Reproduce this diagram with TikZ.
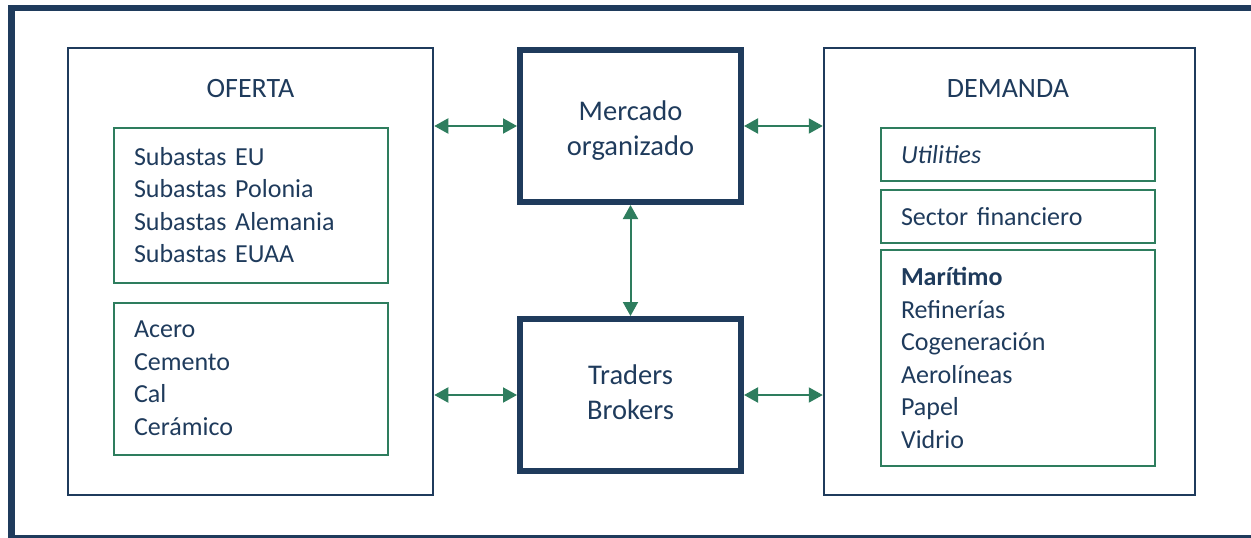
\documentclass[tikz,border=0pt]{standalone}
\usepackage{fontspec}
\setmainfont{Carlito}
\usetikzlibrary{arrows.meta}
\definecolor{navy}{HTML}{1F3B5C}
\definecolor{verde}{HTML}{2E7D5E}

\begin{document}
\begin{tikzpicture}[x=1pt, y=-1pt,
    every node/.style={text=navy},
    sidebox/.style={draw=navy, line width=2.5pt, minimum height=447pt, inner sep=0pt},
    listbox/.style={draw=verde, line width=2pt, minimum width=274pt, inner xsep=20pt, text width=234pt, align=left, font=\fontsize{26}{32.5}\selectfont},
    hubnode/.style={draw=navy, line width=6pt, minimum width=221pt, minimum height=152pt, align=center, font=\fontsize{28.5}{35}\selectfont},
    titlenode/.style={font=\fontsize{28}{34}\selectfont},
    link/.style={draw=verde, line width=2pt, {Triangle[length=14pt,width=15pt]}-{Triangle[length=14pt,width=15pt]}}
    ]
    \useasboundingbox (0,0) rectangle (1251,538);
    % marco
    \draw [navy, line width=6pt] (8,8) -- (1251,8);
    \draw [navy, line width=7pt] (11.5,538) -- (11.5,5);
    \draw [navy, line width=2.5pt] (8,536.5) -- (1251,536.5);

    \node [sidebox, minimum width=365pt] (oferta) at (250.5,271.5) {};
    \node [titlenode] (ofertaT) at (250.5,89) {OFERTA};
    \node [listbox, minimum height=155pt] (subastas) at (251,205)
        {Subastas EU\\Subastas Polonia\\Subastas Alemania\\Subastas EUAA};
    \node [listbox, minimum height=152pt] (sectores) at (251,378.5)
        {Acero\\Cemento\\Cal\\Cerámico};

    \node [sidebox, minimum width=371pt] (demanda) at (1009.5,271.5) {};
    \node [titlenode] (demandaT) at (1008,89) {DEMANDA};
    \node [listbox, minimum height=53pt] (utilities) at (1018,154.5) {\textit{Utilities}};
    \node [listbox, minimum height=53pt] (financiero) at (1018,216.5) {Sector financiero};
    \node [listbox, minimum height=216pt] (maritimo) at (1018,358)
        {\textbf{Marítimo}\\Refinerías\\Cogeneración\\Aerolíneas\\Papel\\Vidrio};

    \node [hubnode] (mercado) at (630.5,126) {\rule{0pt}{34pt}Mercado\\organizado\strut};
    \node [hubnode] (traders) at (630.5,395) {\strut Traders\\Brokers\strut};

    \draw [link] (mercado.west -| oferta.east) -- (mercado.west);
    \draw [link] (mercado.east) -- (mercado.east -| demanda.west);
    \draw [link] (traders.west -| oferta.east) -- (traders.west);
    \draw [link] (traders.east) -- (traders.east -| demanda.west);
    \draw [link] (mercado.south) -- (traders.north);
\end{tikzpicture}
\end{document}
